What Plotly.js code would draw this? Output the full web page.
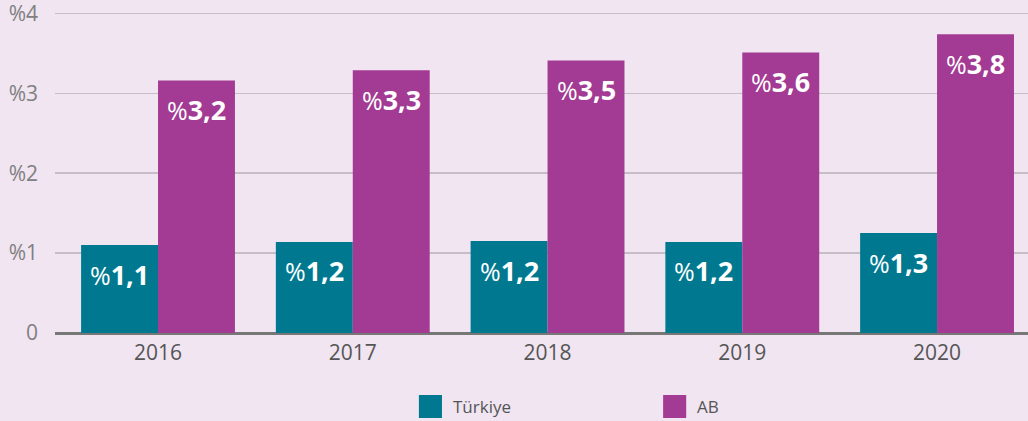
<!DOCTYPE html>
<html>
<head>
<meta charset="utf-8">
<script src="https://cdn.plot.ly/plotly-3.0.1.min.js"></script>
<style>html,body{margin:0;padding:0;background:#f0e5f1;}#chart{width:1028px;height:421px;}</style>
</head>
<body>
<div id="chart"></div>
<script>
const years = ['2016', '2017', '2018', '2019', '2020'];
const seriesNames = ['Türkiye', 'AB'];
const turkiye = [1.10, 1.14, 1.15, 1.14, 1.25];
const ab = [3.16, 3.29, 3.41, 3.51, 3.74];
const turkiyeLabels = ['1,1', '1,2', '1,2', '1,2', '1,3'];
const abLabels = ['3,2', '3,3', '3,5', '3,6', '3,8'];
const yTickVals = [0, 1, 2, 3, 4];
const yTickText = ['0', '%1', '%2', '%3', '%4'];

const colors = ['#007990', '#a33a93'];
const font = '"Open Sans", "Noto Sans", sans-serif';

const traces = [
  {type: 'bar', name: seriesNames[0], x: years, y: turkiye, marker: {color: colors[0]}, showlegend: false, hoverinfo: 'none'},
  {type: 'bar', name: seriesNames[1], x: years, y: ab, marker: {color: colors[1]}, showlegend: false, hoverinfo: 'none'}
];

const annotations = [];
function addLabels(vals, labels, shift) {
  vals.forEach((v, i) => {
    annotations.push({
      x: i, y: v, xref: 'x', yref: 'y', xshift: shift, yshift: -29,
      yanchor: 'middle', xanchor: 'center', showarrow: false,
      text: '<span style="font-size:25px;font-weight:400">%</span><b>' + labels[i] + '</b>',
      font: {family: font, size: 27, color: '#ffffff'}
    });
  });
}
addLabels(turkiye, turkiyeLabels, -38.5);
addLabels(ab, abLabels, 38.5);

// legend (large squares)
const shapes = [];
const legendX = [0.374, 0.625];
const plotH = 322;
const py = (pix) => (333 - pix) / plotH;
seriesNames.forEach((n, i) => {
  shapes.push({type: 'rect', xref: 'paper', yref: 'paper', x0: legendX[i], x1: legendX[i] + 0.0237,
    y0: py(418), y1: py(395), fillcolor: colors[i], line: {width: 0}});
  annotations.push({xref: 'paper', yref: 'paper', x: legendX[i] + 0.033, y: py(406.5), xanchor: 'left', yanchor: 'middle',
    showarrow: false, text: n, font: {family: font, size: 17, color: '#555555'}});
});

const layout = {
  width: 1028, height: 421,
  margin: {l: 55, r: 0, t: 11, b: 88},
  paper_bgcolor: '#f0e5f1', plot_bgcolor: '#f0e5f1',
  barmode: 'group', bargap: 0.21, bargroupgap: 0,
  showlegend: false,
  font: {family: font},
  xaxis: {
    type: 'category', range: [-0.529, 4.467], showgrid: false, zeroline: false, showline: false,
    ticks: '', tickfont: {family: font, size: 21, color: '#555555'}, ticklabelstandoff: 5
  },
  yaxis: {
    range: [0, 4.03], tickvals: yTickVals, ticktext: yTickText, showgrid: true, gridcolor: '#c6bec7', gridwidth: 1.5,
    zeroline: true, zerolinecolor: '#777777', zerolinewidth: 3, showline: false, ticks: '',
    tickfont: {family: font, size: 21, color: '#808080'}, ticklabelstandoff: 16, ticklabeloverflow: 'allow'
  },
  shapes: shapes,
  annotations: annotations
};

Plotly.newPlot('chart', traces, layout, {displayModeBar: false, staticPlot: true});
</script>
</body>
</html>
